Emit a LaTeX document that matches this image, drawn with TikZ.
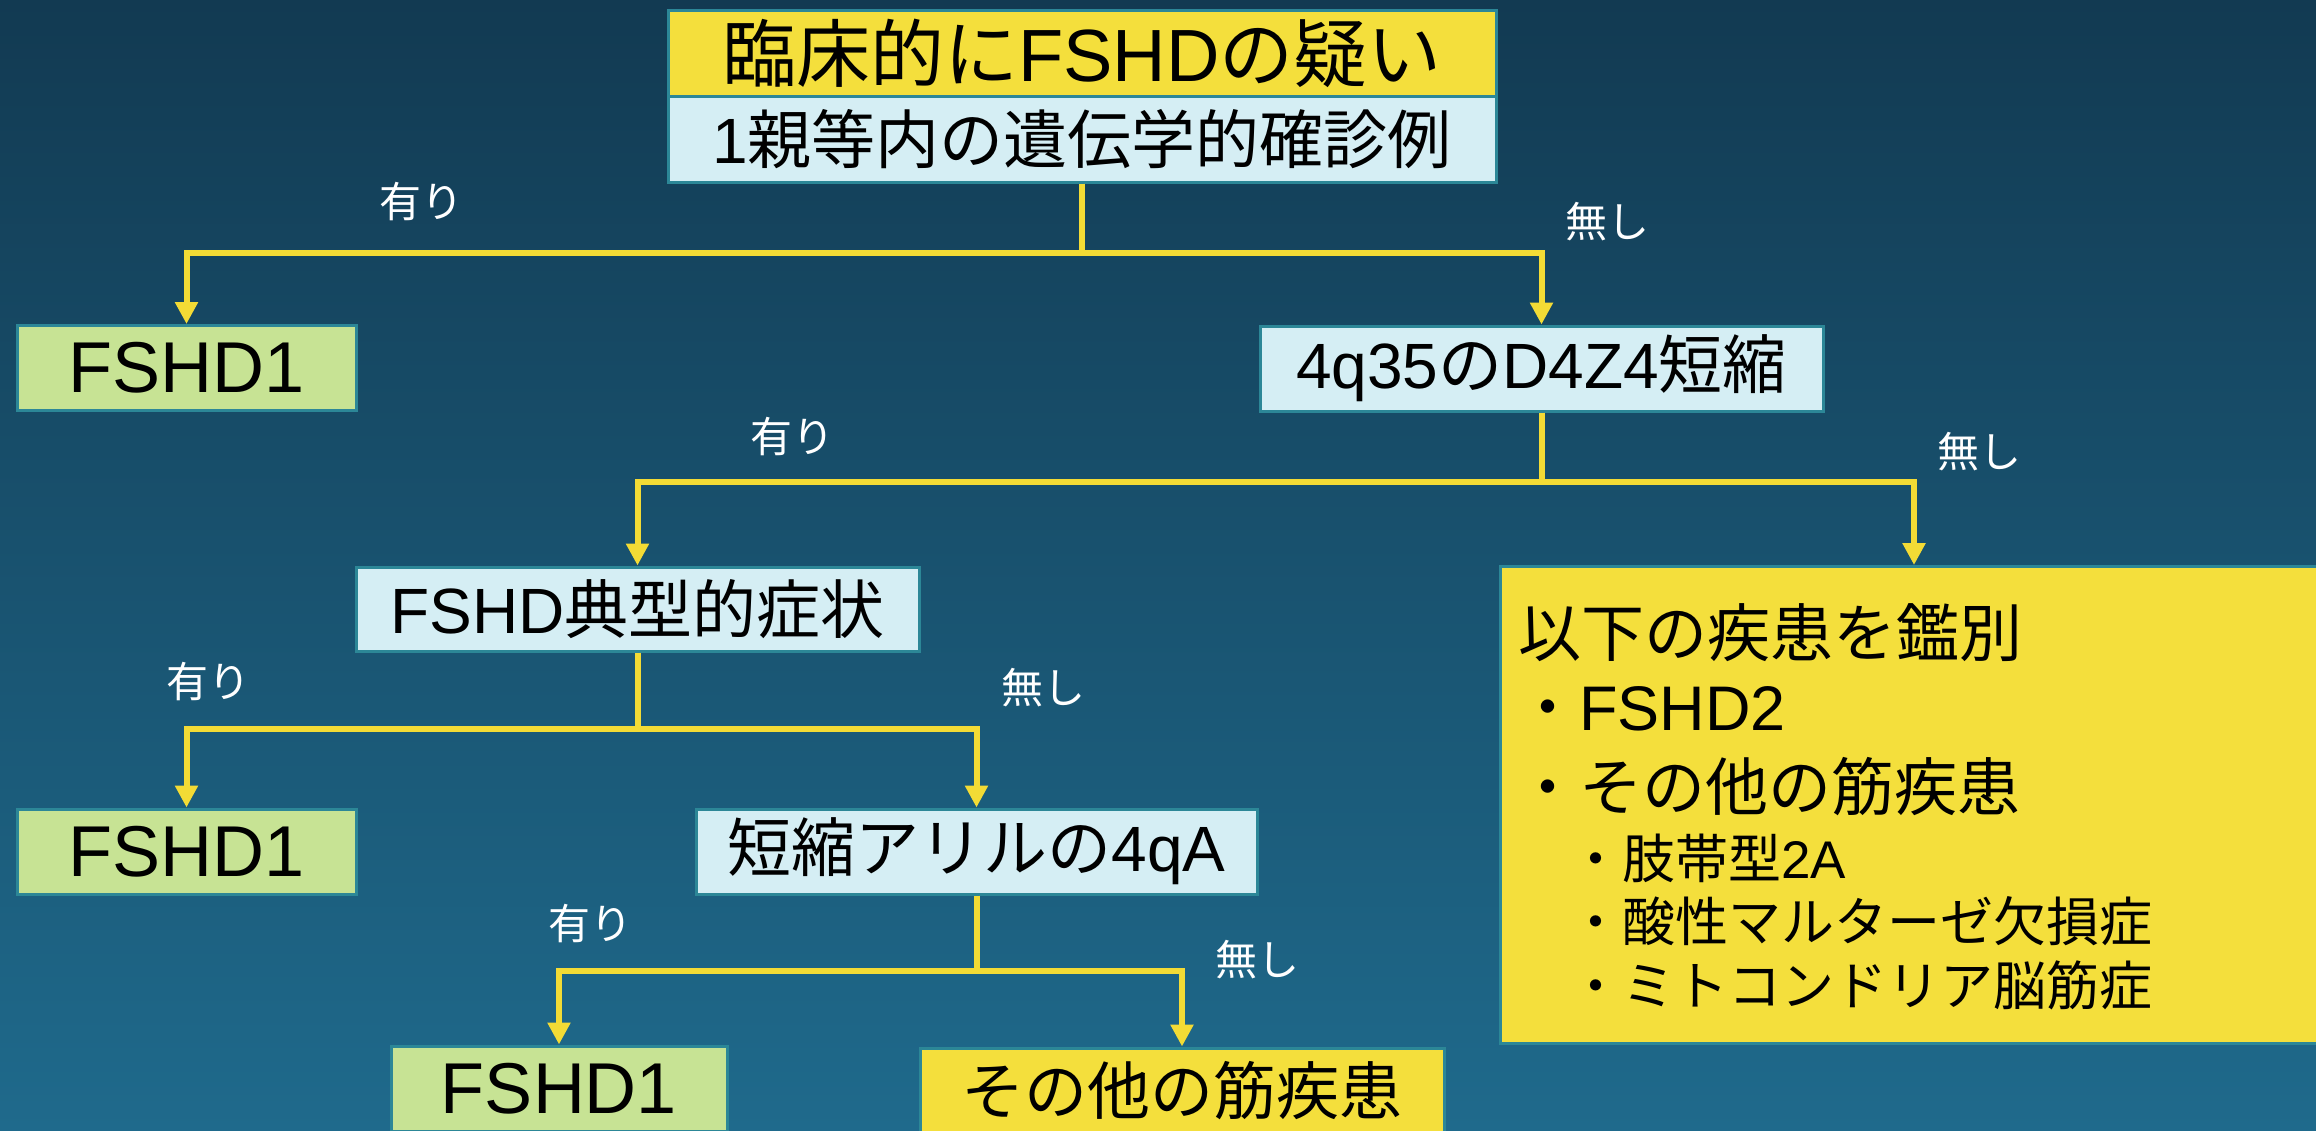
\documentclass[tikz,border=0pt]{standalone}
\usepackage{fontspec}
\setmainfont{Liberation Sans}
\newfontfamily\jp{Noto Sans CJK JP}
\usetikzlibrary{arrows.meta}
\newcommand\setfs[1]{\fontsize{#1}{#1}\selectfont}
\definecolor{bgtop}{HTML}{123A52}
\definecolor{bgbot}{HTML}{1F6A8C}
\definecolor{byellow}{HTML}{F4DF3C}
\definecolor{bblue}{HTML}{D5EEF4}
\definecolor{bgreen}{HTML}{C7E394}
\definecolor{bedge}{HTML}{2C8797}
\definecolor{lyellow}{HTML}{F3DB35}
\tikzset{
  box/.style={draw=bedge, line width=3pt, inner sep=0pt, text=black, minimum height=85pt},
  yelbox/.style={box, fill=byellow},
  bluebox/.style={box, fill=bblue},
  greenbox/.style={box, fill=bgreen},
  conn/.style={draw=lyellow, line width=6pt, -{Triangle[length=22pt,width=22pt]}},
  lbl/.style={text=white, inner sep=0pt, font=\jp\setfs{42}},
  item/.style={anchor=west, inner sep=0pt, text=black},
}
\begin{document}
\begin{tikzpicture}[x=1pt,y=-1pt]
\useasboundingbox (0,0) rectangle (2316,1130);
\clip (0,0) rectangle (2316,1130);
\shade[top color=bgtop, bottom color=bgbot] (0,0) rectangle (2316,1130);

% top boxes
\node[yelbox, minimum width=828pt, minimum height=86pt, font=\setfs{74}] (top) at (1082,53) {{\jp 臨床的に}FSHD{\jp の疑い}};
\node[bluebox, minimum width=828pt, minimum height=86pt, font=\setfs{64}] (fam) at (1082,139) {1{\jp 親等内の遺伝学的確診例}};

% level 1
\node[greenbox, minimum width=339pt, font=\setfs{72}] (f1a) at (186.5,368) {FSHD1};
\node[bluebox, minimum width=563pt, font=\setfs{64}] (q35) at (1541.5,368.5) {4q35{\jp の}D4Z4{\jp 短縮}};

% level 2
\node[bluebox, minimum width=563pt, minimum height=84pt, font=\setfs{64}] (typ) at (637.5,609) {FSHD{\jp 典型的症状}};
\node[yelbox, minimum width=840pt, minimum height=477pt, anchor=north west] (diff) at (1499,565) {};
\node[item, font=\jp\setfs{63}] (d0) at (1518,633) {以下の疾患を鑑別};
\node[item, font=\setfs{63}] (d1) at (1516,709) {{\jp ・}FSHD2};
\node[item, font=\jp\setfs{63}] (d2) at (1516,787) {・その他の筋疾患};
\node[item, font=\setfs{53}] (d3) at (1569,858) {{\jp ・肢帯型}2A};
\node[item, font=\jp\setfs{53}] (d4) at (1569,921) {・酸性マルターゼ欠損症};
\node[item, font=\jp\setfs{53}] (d5) at (1569,985) {・ミトコンドリア脳筋症};

% level 3
\node[greenbox, minimum width=339pt, font=\setfs{72}] (f1b) at (186.5,851.5) {FSHD1};
\node[bluebox, minimum width=561pt, font=\setfs{64}] (allel) at (976.5,851.5) {{\jp 短縮アリルの}4qA};

% level 4
\node[greenbox, minimum width=336pt, font=\setfs{72}] (f1c) at (559,1088.5) {FSHD1};
\node[yelbox, minimum width=524pt, font=\jp\setfs{63}] (other) at (1182,1090.5) {その他の筋疾患};

% connectors
\draw[conn] (fam.south) -- ++(0,69) -| (f1a.north);
\draw[conn] (fam.south) -- ++(0,69) -| (q35.north);
\draw[conn] (q35.south) -- ++(0,69) -| (typ.north);
\draw[conn] (q35.south) -- ++(0,69) -| (diff.north west -| 1914,0);
\draw[conn] (typ.south) -- ++(0,76) -| (f1b.north);
\draw[conn] (typ.south) -- ++(0,76) -| (allel.north);
\draw[conn] (allel.south) -- ++(0,75) -| (f1c.north);
\draw[conn] (allel.south) -- ++(0,75) -| (other.north);

% labels
\node[lbl] (y1) at (421,202) {有り};
\node[lbl] (n1) at (1607,222) {無し};
\node[lbl] (y2) at (792,437) {有り};
\node[lbl] (n2) at (1979,452) {無し};
\node[lbl] (y3) at (208,682) {有り};
\node[lbl] (n3) at (1043,688) {無し};
\node[lbl] (y4) at (590,924) {有り};
\node[lbl] (n4) at (1257,960) {無し};
\end{tikzpicture}
\end{document}
